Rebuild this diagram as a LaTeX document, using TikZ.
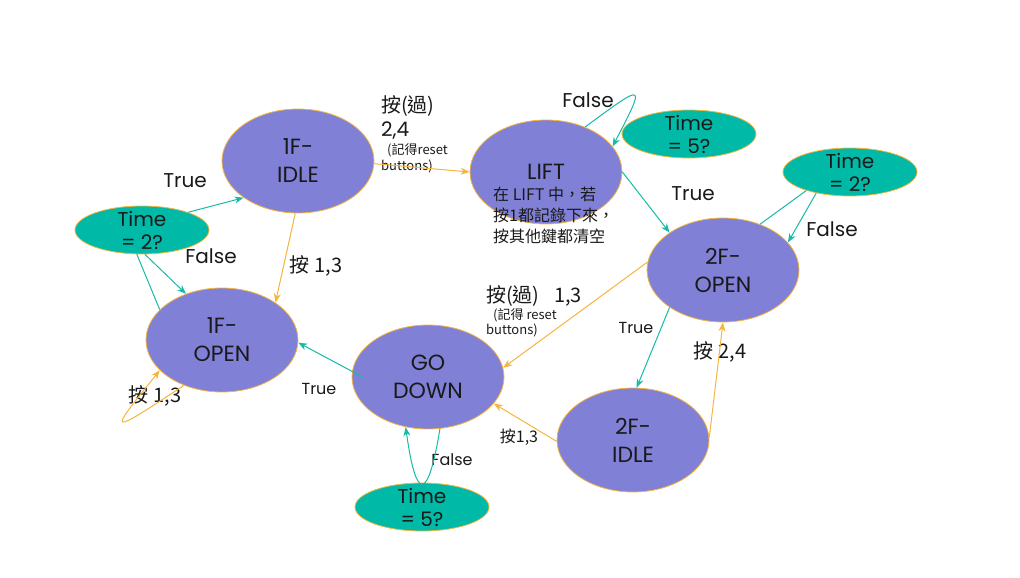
\documentclass[tikz,border=0pt]{standalone}
\usepackage{fontspec}
\setmainfont{Poppins}
\newfontfamily\cjk{Noto Sans CJK TC}
\usetikzlibrary{shapes.geometric,arrows.meta}
\definecolor{statebl}{RGB}{128,128,214}
\definecolor{edgeor}{RGB}{245,180,60}
\definecolor{timegr}{RGB}{0,186,167}
\definecolor{linetl}{RGB}{22,186,166}
\definecolor{inkbk}{RGB}{25,25,25}
\begin{document}
\begin{tikzpicture}[x=1pt,y=-1pt,
    state/.style={ellipse,draw=edgeor,fill=statebl,line width=0.8pt,inner sep=0pt,
      minimum width=152pt,minimum height=104pt,align=center,text=inkbk,
      font=\fontsize{22}{28}\selectfont},
    timer/.style={ellipse,draw=edgeor,fill=timegr,line width=0.8pt,inner sep=0pt,
      minimum width=134pt,minimum height=48pt},
    ttext/.style={align=center,text=inkbk,font=\fontsize{20}{23}\selectfont},
    big/.style={text=inkbk,inner sep=0pt,font=\fontsize{20}{24}\selectfont},
    mid/.style={text=inkbk,inner sep=0pt,font=\fontsize{16}{20}\selectfont},
    tiny/.style={text=inkbk,inner sep=0pt,font=\cjk\fontsize{13}{15}\selectfont},
    go/.style={draw=linetl,line width=1pt,-{Stealth[length=9pt,width=7pt]}},
    press/.style={draw=edgeor,line width=1pt,-{Stealth[length=9pt,width=7pt]}}]
      \useasboundingbox (0,0) rectangle (1020,578);%

      \node[state] (I1) at (298,161) {1F-\\IDLE};%
      \node[state] (LF) at (546,172) {LIFT};%
      \node[state] (O2) at (723,270) {2F-\\OPEN};%
      \node[state] (O1) at (222,340) {1F-\\OPEN};%
      \node[state] (GD) at (428,377) {GO\\DOWN};%
      \node[state] (I2) at (633,440) {2F-\\IDLE};%

      \node[timer] (T1) at (142,230) {};%
      \node[ttext] (T1t) at (T1) {Time\\= 2?};%
      \node[timer] (T2) at (689,134) {};%
      \node[ttext] (T2t) at (T2) {Time\\= 5?};%
      \node[timer] (T3) at (850,172) {};%
      \node[ttext] (T3t) at (T3) {Time\\= 2?};%
      \node[timer] (T4) at (422,507) {};%
      \node[ttext] (T4t) at (T4) {Time\\= 5?};%

      \node[mid,anchor=north west,align=left,font=\cjk\fontsize{16}{21}\selectfont]
      (LFT) at (493,187) {在 LIFT 中，若\\按1都記錄下來，\\按其他鍵都清空};%

      \node[big] (TR1) at (185,181) {True};%
      \node[big] (FA1) at (211,256) {False};%
      \node[big,font=\cjk\fontsize{20}{24}\selectfont] (PS1) at (316,266) {按 1,3};%
      \node[big,anchor=west,font=\cjk\fontsize{20}{24}\selectfont] (PS2) at (381,106) {按(過)};%
      \node[big,anchor=west] (PS2n) at (381,131) {2,4};%
      \node[tiny,anchor=west] (PS2a) at (387,150) {(記得reset};%
      \node[tiny,anchor=west] (PS2b) at (381,166) {buttons)};%
      \node[big] (FA2) at (588,100) {False};%
      \node[big] (TR2) at (693,194) {True};%
      \node[big] (FA3) at (832,229) {False};%
      \node[big,anchor=west,font=\cjk\fontsize{20}{24}\selectfont] (PS3) at (486,296) {按(過)\enspace\ 1,3};%
      \node[tiny,anchor=west] (PS3a) at (493,315) {(記得 reset};%
      \node[tiny,anchor=west] (PS3b) at (486,330) {buttons)};%
      \node[mid] (TR3) at (636,328) {True};%
      \node[big,font=\cjk\fontsize{20}{24}\selectfont] (PS4) at (720,352) {按 2,4};%
      \node[mid,font=\cjk\fontsize{16}{20}\selectfont] (PS5) at (519,437) {按1,3};%
      \node[mid] (TR4) at (319,389) {True};%
      \node[mid] (FA4) at (452,460) {False};%
      \node[big,font=\cjk\fontsize{20}{24}\selectfont] (PS6) at (155,396) {按 1,3};%

      \draw[go] (T1.21) -- (I1.214);%
      \draw[go] (T1.277) -- (O1.128);%
      \draw[go,-] (O1.154) -- (T1.258);%
      \draw[press] (I1.267) -- (O1.35);%
      \draw[press] (I1.358) -- (LF.180);%
      \draw[go] (LF.49) .. controls (646,82) .. (LF.21);%
      \draw[go] (LF.0) -- (O2.145);%
      \draw[go,-] (O2.51) -- (T3.203);%
      \draw[go] (T3.212) -- (O2.23);%
      \draw[press] (O2.174) -- (GD.7);%
      \draw[go] (O2.215) -- (I2.86);%
      \draw[press] (I2.2) -- (O2.south);%
      \draw[press] (I2.181) -- (GD.338);%
      \draw[go] ([xshift=11pt]GD.west) -- (O1.358);%
      \draw[go] (GD.283) .. controls (428,502) and (416,502) .. (GD.246);%
      \draw[press] (O1.230) .. controls (107,436) .. (O1.206);%
    \end{tikzpicture}
\end{document}
